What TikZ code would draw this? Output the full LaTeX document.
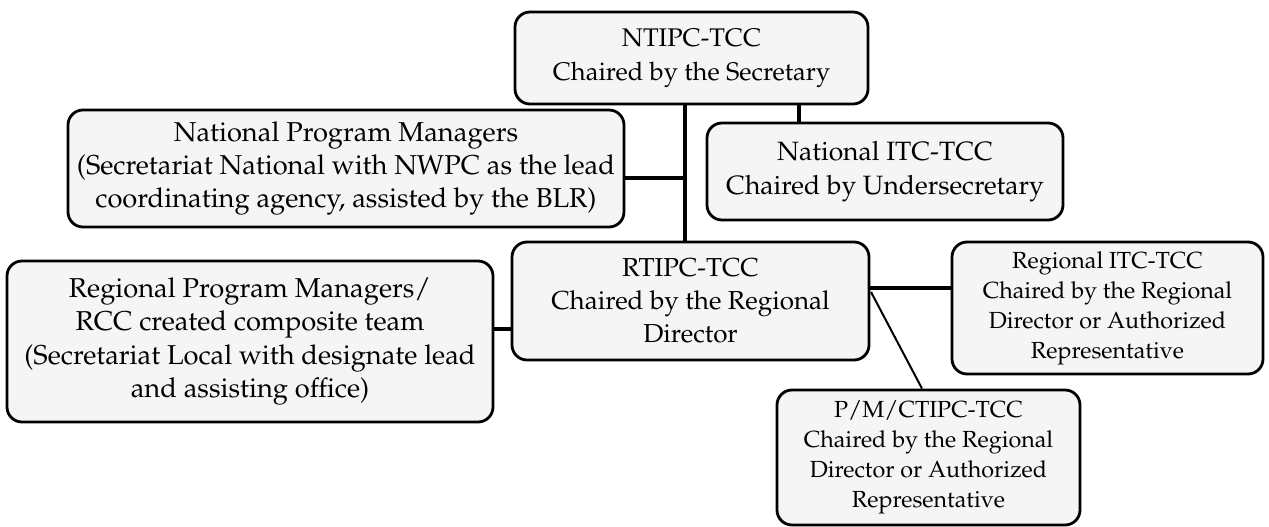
\documentclass[tikz,border=0pt]{standalone}
\usepackage[T1]{fontenc}
\usepackage{mathpazo}
\tikzset{
  box/.style={draw=black, line width=2.8pt, rounded corners=15pt, fill=black!4,
    inner sep=0pt, align=center, font=\fontsize{26}{33}\selectfont},
  smallbox/.style={box, font=\fontsize{23.3}{30}\selectfont},
  conn/.style={line width=4pt},
  thinconn/.style={line width=2pt}
}
\begin{document}
\begin{tikzpicture}[x=1pt,y=-1pt]
\useasboundingbox (0,0) rectangle (1269,527);
\node[box, font=\fontsize{25.5}{34}\selectfont, minimum width=353pt, minimum height=92pt] (ntipc) at (691.5,58)
  {NTIPC-TCC\\Chaired by the Secretary};
\node[box, font=\fontsize{27.3}{33}\selectfont, minimum width=556pt, minimum height=117pt] (npm) at (346,168.5)
  {National Program Managers\\(Secretariat National with NWPC as the lead\\coordinating agency, assisted by the BLR)};
\node[box, font=\fontsize{26.5}{34}\selectfont, minimum width=356pt, minimum height=97pt] (itc) at (885,171.5)
  {National ITC-TCC\\Chaired by Undersecretary};
\node[box, minimum width=357pt, minimum height=118pt] (rtipc) at (690.5,301)
  {RTIPC-TCC\\Chaired by the Regional\\Director};
\node[box, font=\fontsize{27.3}{33.5}\selectfont, minimum width=486pt, minimum height=161pt] (rpm) at (250,341.5)
  {Regional Program Managers/\\RCC created composite team\\(Secretariat Local with designate lead\\and assisting office)};
\node[smallbox, minimum width=311pt, minimum height=132pt] (regitc) at (1107.5,308)
  {Regional ITC-TCC\\Chaired by the Regional\\Director or Authorized\\Representative};
\node[smallbox, minimum width=303pt, minimum height=135pt] (pm) at (928.5,457.5)
  {P/M/CTIPC-TCC\\Chaired by the Regional\\Director or Authorized\\Representative};
\coordinate (j0) at (685,0);
\coordinate (j1) at (799,0);
\coordinate (j2) at (685,178);
\coordinate (j3) at (0,329);
\coordinate (j4) at (0,288);
\coordinate (j5) at (871,292);
\coordinate (j6) at (922,0);
\draw[conn] (ntipc.south -| j0) -- (rtipc.north -| j0);
\draw[conn] (npm.east |- j2) -- (j2);
\draw[conn] (ntipc.south -| j1) -- (itc.north -| j1);
\draw[conn] (rpm.east |- j3) -- (rtipc.west |- j3);
\draw[conn] (rtipc.east |- j4) -- (regitc.west |- j4);
\draw[thinconn] (j5) -- (pm.north -| j6);
\end{tikzpicture}
\end{document}
